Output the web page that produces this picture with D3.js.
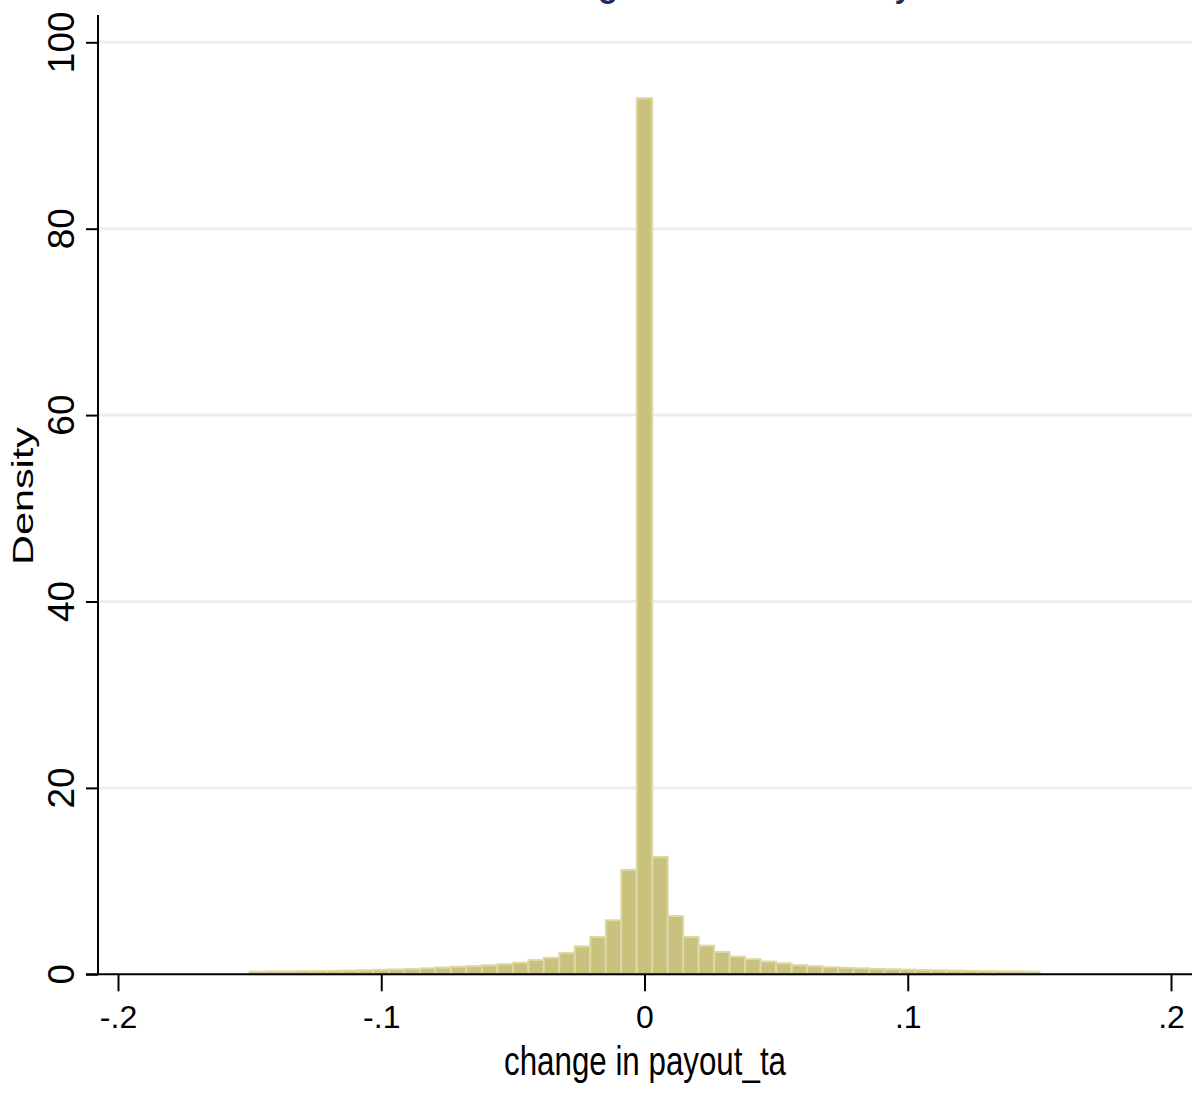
<!DOCTYPE html>
<html>
<head>
<meta charset="utf-8">
<script src="https://cdn.jsdelivr.net/npm/d3@7"></script>
<style>
  html, body { margin: 0; padding: 0; background: #ffffff; }
  svg { display: block; }
  text { font-family: "Liberation Sans", Arial, Helvetica, sans-serif; }
</style>
</head>
<body>
<svg id="chart" width="1199" height="1093"></svg>
<script>
// Histogram of the change in payout_ta: 51 equal-width bins on [-0.15, 0.15]
const binStart = -0.15;
const binEnd = 0.15;
const binCount = 51;
const densities = [
  0.28, 0.30, 0.31, 0.33, 0.35, 0.37, 0.40, 0.44, 0.48, 0.52,
  0.57, 0.64, 0.72, 0.80, 0.88, 0.97, 1.08, 1.24, 1.53, 1.78,
  2.28, 3.00, 4.00, 5.80, 11.20, 94.00, 12.60, 6.25, 4.00, 3.07,
  2.40, 1.90, 1.62, 1.36, 1.18, 0.98, 0.87, 0.76, 0.69, 0.64,
  0.58, 0.54, 0.50, 0.46, 0.43, 0.40, 0.37, 0.34, 0.32, 0.30,
  0.28
];
const xTicks = [-0.2, -0.1, 0, 0.1, 0.2];
const xTickLabels = ["-.2", "-.1", "0", ".1", ".2"];
const yTicks = [0, 20, 40, 60, 80, 100];
const yTickLabels = ["0", "20", "40", "60", "80", "100"];
const titleText = "Distribution of the change in dividends by firm";
const xTitle = "change in payout_ta";
const yTitle = "Density";

const svg = d3.select("#chart");

const x = d3.scaleLinear().domain([-0.2, 0.2]).range([118, 1171]);
const y = d3.scaleLinear().domain([0, 100]).range([974.3, 42.3]);

const plotLeft = 98, plotRight = 1192;
const binWidth = (binEnd - binStart) / binCount;
const bins = densities.map((d, i) => ({
  x0: binStart + i * binWidth,
  x1: binStart + (i + 1) * binWidth,
  density: d
}));

// title (sits mostly above the canvas edge)
svg.append("text")
  .attr("x", 191).attr("y", -6)
  .attr("font-size", 49)
  .attr("fill", "#1a2b5e")
  .attr("textLength", 801)
  .attr("lengthAdjust", "spacingAndGlyphs")
  .text(titleText);

// horizontal grid lines
svg.append("g")
  .selectAll("line")
  .data(yTicks.filter(t => t > 0))
  .join("line")
  .attr("x1", plotLeft + 1).attr("x2", plotRight)
  .attr("y1", d => y(d)).attr("y2", d => y(d))
  .attr("stroke", "#e9f0f2")
  .attr("stroke-width", 3);

// bars
svg.append("g")
  .selectAll("rect")
  .data(bins)
  .join("rect")
  .attr("x", d => x(d.x0))
  .attr("width", d => x(d.x1) - x(d.x0))
  .attr("y", d => y(d.density))
  .attr("height", d => y(0) - y(d.density))
  .attr("fill", "#c9c17e")
  .attr("stroke", "#ddd8a6")
  .attr("stroke-width", 2);

// x axis
const xAxis = d3.axisBottom(x)
  .tickValues(xTicks)
  .tickFormat((d, i) => xTickLabels[i])
  .tickSize(17)
  .tickPadding(14)
  .tickSizeOuter(0);
const gx = svg.append("g")
  .attr("transform", `translate(0,${y(0)})`)
  .call(xAxis);
gx.select(".domain").remove();
gx.selectAll(".tick line").attr("stroke", "#000").attr("stroke-width", 2);
gx.selectAll(".tick text")
  .attr("font-size", 32)
  .attr("font-family", "\"Liberation Sans\", Arial, sans-serif")
  .attr("fill", "#000");
gx.append("line")
  .attr("x1", 86).attr("x2", plotRight)
  .attr("y1", 0).attr("y2", 0)
  .attr("stroke", "#000").attr("stroke-width", 2);

// y axis
const yAxis = d3.axisLeft(y)
  .tickValues(yTicks)
  .tickFormat("")
  .tickSize(12)
  .tickSizeOuter(0);
const gy = svg.append("g")
  .attr("transform", `translate(${plotLeft},0)`)
  .call(yAxis);
gy.select(".domain").remove();
gy.selectAll(".tick line").attr("stroke", "#000").attr("stroke-width", 2);
gy.append("line")
  .attr("x1", 0).attr("x2", 0)
  .attr("y1", 15).attr("y2", y(0))
  .attr("stroke", "#000").attr("stroke-width", 2);

// rotated y tick labels
svg.append("g")
  .selectAll("text")
  .data(yTicks)
  .join("text")
  .attr("transform", d => `translate(74,${y(d)}) rotate(-90)`)
  .attr("text-anchor", "middle")
  .attr("font-size", 37)
  .attr("fill", "#000")
  .text((d, i) => yTickLabels[i]);

// axis titles
svg.append("text")
  .attr("x", 645).attr("y", 1075)
  .attr("text-anchor", "middle")
  .attr("font-size", 40)
  .attr("fill", "#000")
  .attr("textLength", 282)
  .attr("lengthAdjust", "spacingAndGlyphs")
  .text(xTitle);

svg.append("text")
  .attr("transform", "translate(33,496) rotate(-90)")
  .attr("text-anchor", "middle")
  .attr("font-size", 30)
  .attr("fill", "#000")
  .attr("textLength", 138)
  .attr("lengthAdjust", "spacingAndGlyphs")
  .text(yTitle);
</script>
</body>
</html>
